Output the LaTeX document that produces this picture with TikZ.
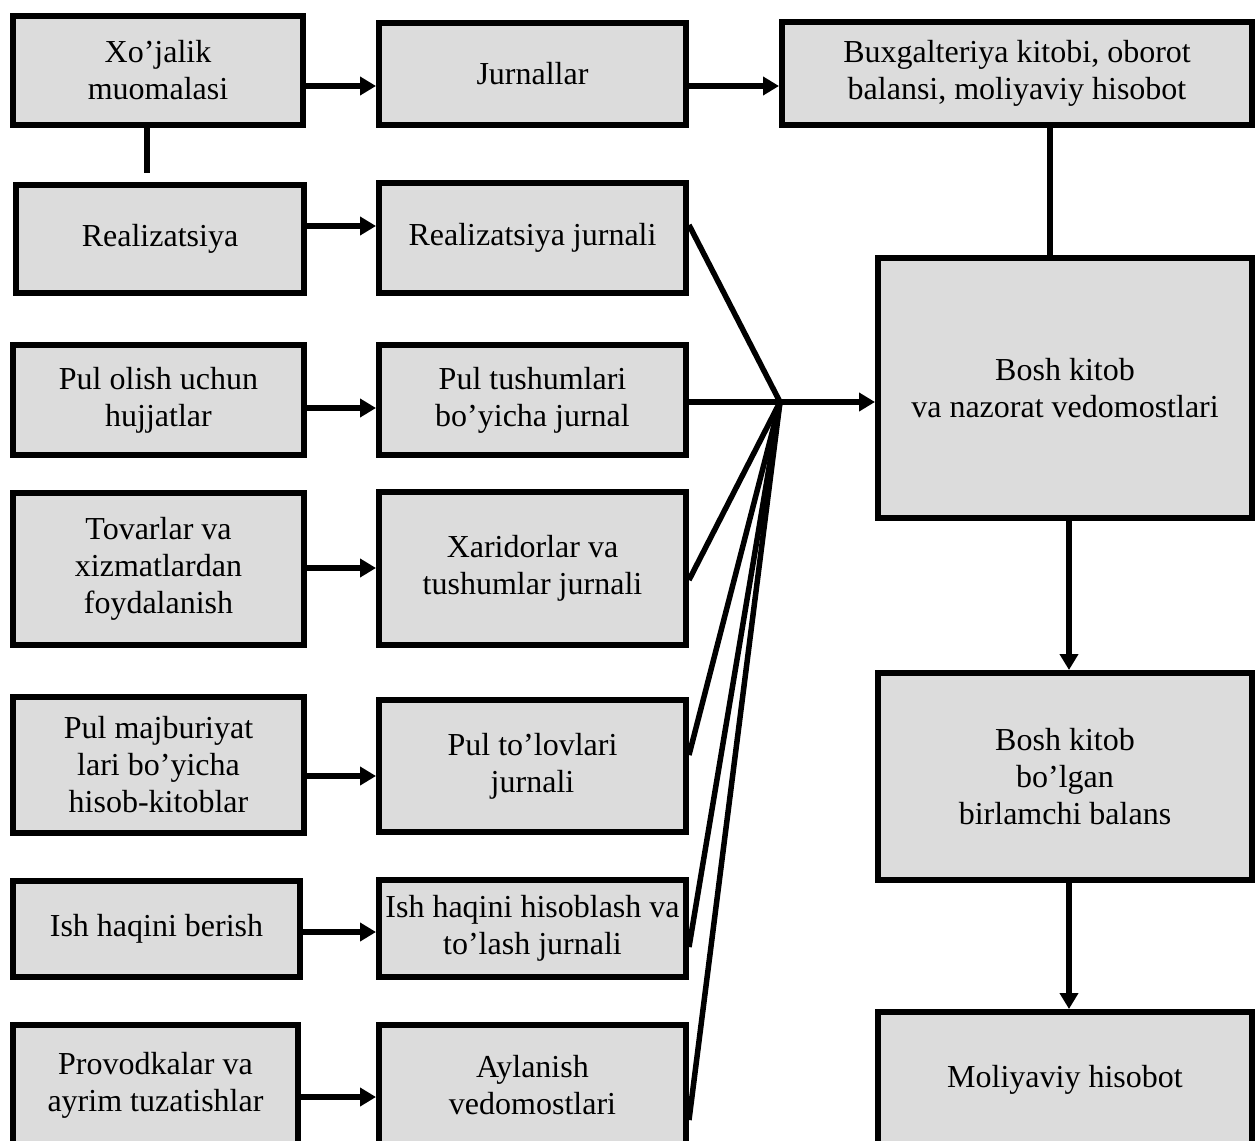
\documentclass[tikz,border=0pt]{standalone}
\usepackage{fontspec}
\setmainfont{Liberation Serif}
\usetikzlibrary{arrows.meta,calc}
\definecolor{boxgray}{RGB}{220,220,220}
\begin{document}
\begin{tikzpicture}[x=1pt,y=-1pt,
  box/.style={draw=black,line width=6pt,fill=boxgray,align=center,
    inner sep=2pt,font=\fontsize{32pt}{37pt}\selectfont},
  conn/.style={line width=5.5pt},
  arr/.style={line width=5.5pt,-{Triangle[length=16pt,width=18pt]}}]
\useasboundingbox (0,0) rectangle (1255,1140);
\clip (0,0) rectangle (1255,1140);

% left column: source documents
\node[box,minimum width=290pt,minimum height=109pt] (A) at (158,70.5) {Xo’jalik\\muomalasi};
\node[box,minimum width=288pt,minimum height=108pt] (D) at (160,239) {Realizatsiya};
\node[box,minimum width=291pt,minimum height=110pt] (F) at (158.5,400) {Pul olish uchun\\hujjatlar};
\node[box,minimum width=291pt,minimum height=152pt] (H) at (158.5,569) {Tovarlar va\\xizmatlardan\\foydalanish};
\node[box,minimum width=291pt,minimum height=136pt] (J) at (158.5,765) {Pul majburiyat\\lari bo’yicha\\hisob-kitoblar};
\node[box,minimum width=287pt,minimum height=96pt] (L) at (156.5,929) {Ish haqini berish};
\node[box,minimum width=285pt,minimum height=120pt] (N) at (155.5,1085) {Provodkalar va\\ayrim tuzatishlar};

% middle column: journals
\node[box,minimum width=307pt,minimum height=102pt] (B) at (532.5,74) {Jurnallar};
\node[box,minimum width=307pt,minimum height=110pt] (E) at (532.5,238) {Realizatsiya jurnali};
\node[box,minimum width=307pt,minimum height=110pt] (G) at (532.5,400) {Pul tushumlari\\bo’yicha jurnal};
\node[box,minimum width=307pt,minimum height=153pt] (I) at (532.5,568.5) {Xaridorlar va\\tushumlar jurnali};
\node[box,minimum width=307pt,minimum height=132pt] (K) at (532.5,766) {Pul to’lovlari\\jurnali};
\node[box,minimum width=307pt,minimum height=97pt,inner sep=0pt] (M) at (532.5,928.5) {Ish haqini hisoblash va\\to’lash jurnali};
\node[box,minimum width=307pt,minimum height=120pt] (O) at (532.5,1085) {Aylanish\\vedomostlari};

% right column: ledgers and reports
\node[box,minimum width=470pt,minimum height=103pt] (C) at (1017,73.5) {Buxgalteriya kitobi, oborot\\balansi, moliyaviy hisobot};
\node[box,minimum width=374pt,minimum height=260pt] (P) at (1065,388) {Bosh kitob\\va nazorat vedomostlari};
\node[box,minimum width=374pt,minimum height=207pt] (Q) at (1065,776.5) {Bosh kitob\\bo’lgan\\birlamchi balans};
\node[box,minimum width=374pt,minimum height=136pt] (R) at (1065,1080) {Moliyaviy hisobot};

% top row
\coordinate (a1) at ([yshift=-15.5pt]A.east);
\draw[arr] (a1) -- (a1 -| B.west);
\coordinate (b1) at ([yshift=-12pt]B.east);
\draw[arr] (b1) -- (b1 -| C.west);
\coordinate (a2) at ([xshift=-11pt]A.south);
\draw[conn] (a2) -- ++(0,45);

% sources to journals
\coordinate (d1) at ([yshift=13pt]D.east);
\draw[arr] (d1) -- (d1 -| E.west);
\coordinate (f1) at ([yshift=-8pt]F.east);
\draw[arr] (f1) -- (f1 -| G.west);
\coordinate (h1) at ([yshift=1pt]H.east);
\draw[arr] (h1) -- (h1 -| I.west);
\coordinate (j1) at ([yshift=-11pt]J.east);
\draw[arr] (j1) -- (j1 -| K.west);
\coordinate (l1) at ([yshift=-3pt]L.east);
\draw[arr] (l1) -- (l1 -| M.west);
\coordinate (n1) at ([yshift=-12pt]N.east);
\draw[arr] (n1) -- (n1 -| O.west);

% journals converge on the general ledger
\coordinate (hub) at (780,402);
\draw[conn] ([yshift=13pt]E.east) -- (hub);
\draw[conn] (G.east |- hub) -- (hub);
\draw[conn] ([yshift=-11.5pt]I.east) -- (hub);
\draw[conn] ([yshift=11pt]K.east) -- (hub);
\draw[conn] ([yshift=-18.5pt]M.east) -- (hub);
\draw[conn] ([yshift=-35pt]O.east) -- (hub);
\draw[arr] (hub) -- (hub -| P.west);

% right column links
\coordinate (c1) at ([xshift=33pt]C.south);
\draw[conn] (c1) -- (c1 |- P.north);
\coordinate (p1) at ([xshift=4pt]P.south);
\draw[arr] (p1) -- (p1 |- Q.north);
\coordinate (q1) at ([xshift=4pt]Q.south);
\draw[arr] (q1) -- (q1 |- R.north);
\end{tikzpicture}
\end{document}
